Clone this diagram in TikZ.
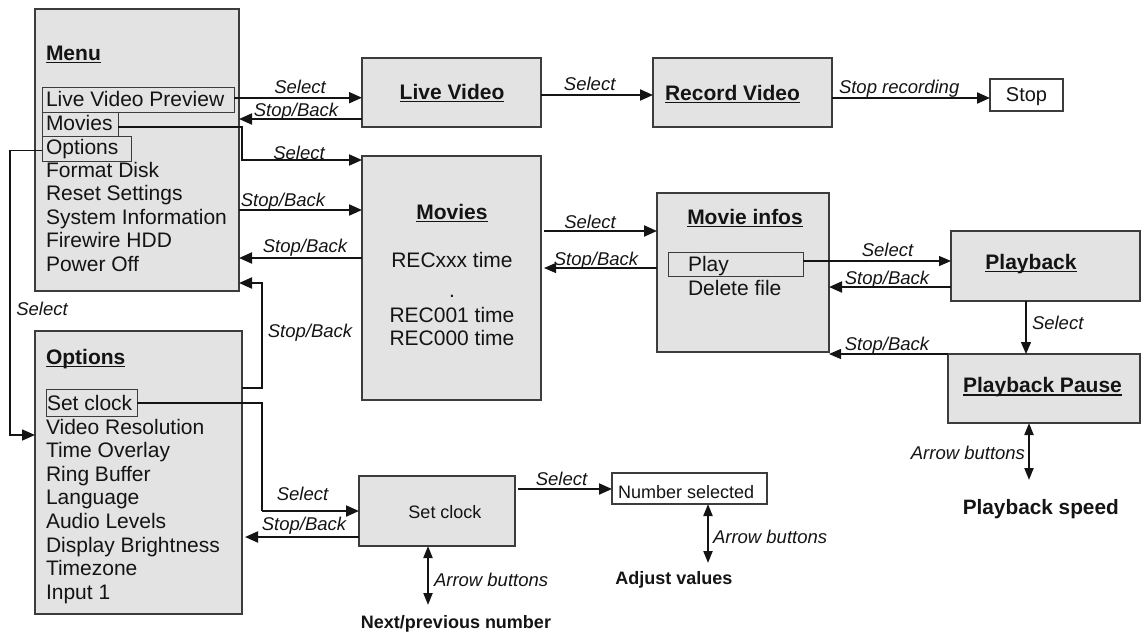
\documentclass[tikz,border=0pt]{standalone}
\usepackage{fontspec}
\setmainfont{Liberation Sans}
\usetikzlibrary{arrows.meta}
\definecolor{boxfill}{RGB}{227,227,227}
\definecolor{boxline}{RGB}{60,60,60}
\definecolor{ink}{RGB}{20,20,20}
\newcommand{\myul}[1]{\setbox0=\hbox{#1}\rlap{\rule[-3pt]{\wd0}{1.4pt}}\box0}
\begin{document}
\begin{tikzpicture}[x=1pt,y=-1pt,
  every node/.style={inner sep=0pt, outer sep=0pt, text=ink},
  panel/.style={draw=boxline, fill=boxfill, line width=1.2pt, rectangle, anchor=north west},
  whitebox/.style={draw=boxline, fill=white, line width=1.2pt, rectangle, anchor=north west},
  hl/.style={draw=boxline, line width=1pt, rectangle, anchor=north west},
  item/.style={anchor=base west, font=\fontsize{21}{24}\selectfont},
  ctext/.style={anchor=base, font=\fontsize{21}{24}\selectfont},
  ttl/.style={anchor=base, font=\fontsize{21}{24}\selectfont\bfseries},
  lbl/.style={anchor=base, font=\fontsize{18.5}{22}\selectfont\itshape},
  small/.style={anchor=base, font=\fontsize{18}{22}\selectfont},
  conn/.style={draw=ink, line width=2pt, -{Triangle[length=13pt,width=11pt]}},
  thinconn/.style={draw=ink, line width=1.3pt, -{Triangle[length=12pt,width=10pt]}},
  dbl/.style={draw=ink, line width=2pt, {Triangle[length=12pt,width=9pt]}-{Triangle[length=12pt,width=9pt]}}]
\useasboundingbox (0,0) rectangle (1141,632);

% ---------- Menu ----------
\node[panel, minimum width=204, minimum height=282] (menu) at (35,9) {};
\node[hl, minimum width=192, minimum height=25] (lvph) at (42,87) {};
\node[hl, minimum width=76, minimum height=24] (movh) at (42,112) {};
\node[hl, minimum width=89, minimum height=25] (opth) at (42,136) {};
\node[ttl, anchor=base west] (menut) at (46,60) {\myul{Menu}};
\node[item] (m1) at (46,106) {Live Video Preview};
\node[item] (m2) at (46,130) {Movies};
\node[item] (m3) at (46,154) {Options};
\node[item] (m4) at (46,177) {Format Disk};
\node[item] (m5) at (46,200.5) {Reset Settings};
\node[item] (m6) at (46,224) {System Information};
\node[item] (m7) at (46,247.5) {Firewire HDD};
\node[item] (m8) at (46,271) {Power Off};

% ---------- Options ----------
\node[panel, minimum width=207, minimum height=283] (options) at (35,331) {};
\node[hl, minimum width=91, minimum height=27] (setch) at (46,389) {};
\node[ttl, anchor=base west] (optt) at (46,364) {\myul{Options}};
\node[item] (o1) at (47,410) {Set clock};
\node[item] (o2) at (46,434) {Video Resolution};
\node[item] (o3) at (46,457.6) {Time Overlay};
\node[item] (o4) at (46,481.2) {Ring Buffer};
\node[item] (o5) at (46,504.8) {Language};
\node[item] (o6) at (46,528.4) {Audio Levels};
\node[item] (o7) at (46,552) {Display Brightness};
\node[item] (o8) at (46,575.6) {Timezone};
\node[item] (o9) at (46,599.2) {Input 1};

% ---------- Live / Record / Stop ----------
\node[panel, minimum width=179, minimum height=69] (live) at (362,58) {};
\node[ttl] (livet) at (452,99) {\myul{Live Video}};
\node[panel, minimum width=179, minimum height=69] (record) at (653,58) {};
\node[ttl] (recordt) at (732.5,100) {\myul{Record Video}};
\node[whitebox, minimum width=73, minimum height=32] (stopbox) at (990,79) {};
\node[anchor=base, font=\fontsize{20}{24}\selectfont] (stopt) at (1026.5,101.7) {Stop};

% ---------- Movies ----------
\node[panel, minimum width=179, minimum height=244] (movies) at (362,156) {};
\node[ttl] (moviest) at (452,219) {\myul{Movies}};
\node[ctext] (r1) at (452,267) {RECxxx time};
\node[ctext] (rdot) at (452,297) {.};
\node[ctext] (r2) at (452,322) {REC001 time};
\node[ctext] (r3) at (452,345) {REC000 time};

% ---------- Movie infos ----------
\node[panel, minimum width=172, minimum height=159] (infos) at (657,193) {};
\node[hl, minimum width=135, minimum height=24] (playh) at (668,252) {};
\node[ttl] (infost) at (745,224) {\myul{Movie infos}};
\node[item] (i1) at (688,271.7) {Play};
\node[item] (i2) at (688,295) {Delete file};

% ---------- Playback ----------
\node[panel, minimum width=189, minimum height=70] (playback) at (951,231) {};
\node[ttl] (playbackt) at (1031,269) {\myul{Playback}};
\node[panel, minimum width=192, minimum height=69] (pause) at (948,354) {};
\node[ttl] (pauset) at (1042.5,392.7) {\myul{Playback Pause}};

% ---------- Set clock ----------
\node[panel, minimum width=156, minimum height=70] (setclock) at (359,476) {};
\node[small] (setclockt) at (445,518) {Set clock};
\node[whitebox, minimum width=155, minimum height=31] (number) at (612,473) {};
\node[small, anchor=base west] (numbert) at (618,498) {Number selected};

% ---------- free ends ----------
\coordinate (lx) at (10,0);
\coordinate (sc) at (262,511);
\coordinate (spdend) at (1029,480);
\coordinate (adjend) at (708,563);
\coordinate (nextend) at (428,605);

% ---------- connectors ----------
\draw[conn] (lvph.east |- 0,97.7) -- (live.west |- 0,97.7);
\draw[conn] (live.west |- 0,119) -- (menu.east |- 0,119);
\draw[conn] (movh.east |- 0,127) -| (242,160) -- (movies.west |- 0,160);
\draw[conn] (menu.east |- 0,210) -- (movies.west |- 0,210);
\draw[conn] (movies.west |- 0,258) -- (menu.east |- 0,258);
\draw[draw=ink, line width=1.6pt, -{Triangle[length=13pt,width=11pt]}] (opth.west |- 0,150.5) -- (lx |- 0,150.5) |- (options.west |- 0,435);
\draw[conn] (options.east |- 0,388) -| (262,283) -- (menu.east |- 0,283);
\draw[draw=ink, line width=1.3pt] (setch.east |- 0,403) -| (sc);
\draw[conn] (sc) -- (setclock.west |- sc);
\draw[conn, shorten >=3pt] (setclock.west |- 0,537) -- (options.east |- 0,537);
\draw[conn] (live.east |- 0,95) -- (record.west |- 0,95);
\draw[conn] (record.east |- 0,98) -- (stopbox.west |- 0,98);
\draw[conn, shorten <=3pt] (movies.east |- 0,231) -- (infos.west |- 0,231);
\draw[thinconn, shorten >=3pt] (infos.west |- 0,268) -- (movies.east |- 0,268);
\draw[thinconn] (playh.east |- 0,261) -- (playback.west |- 0,261);
\draw[conn] (playback.west |- 0,287) -- (infos.east |- 0,287);
\draw[thinconn] (playback.south -| 1026,0) -- (pause.north -| 1026,0);
\draw[thinconn] (pause.north west) -- (infos.east |- pause.north west);
\draw[conn, shorten <=3pt] (setclock.east |- 0,489) -- (number.west |- 0,489);
\draw[dbl] (pause.south -| spdend) -- (spdend);
\draw[dbl] (number.south -| adjend) -- (adjend);
\draw[dbl] (setclock.south -| nextend) -- (nextend);

% ---------- labels ----------
\node[lbl] (l1) at (300,93.3) {Select};
\node[lbl] (l2) at (296,116) {Stop/Back};
\node[lbl] (l3) at (299,159.3) {Select};
\node[lbl] (l4) at (283,206.7) {Stop/Back};
\node[lbl] (l5) at (305,252) {Stop/Back};
\node[lbl] (l6) at (42,315) {Select};
\node[lbl] (l7) at (310,337) {Stop/Back};
\node[lbl] (l8) at (302.5,500.7) {Select};
\node[lbl] (l9) at (304,530.7) {Stop/Back};
\node[lbl] (l10) at (589.7,90) {Select};
\node[lbl] (l11) at (590,228) {Select};
\node[lbl] (l12) at (596,265) {Stop/Back};
\node[lbl] (l13) at (887.5,256) {Select};
\node[lbl] (l14) at (887,284) {Stop/Back};
\node[lbl, anchor=base west] (l15) at (1032,329) {Select};
\node[lbl] (l16) at (887,350.7) {Stop/Back};
\node[lbl] (l17) at (561.5,485) {Select};
\node[lbl, anchor=base west] (l18) at (839,93) {Stop recording};
\node[lbl, anchor=base west] (l19) at (713,543) {Arrow buttons};
\node[lbl, anchor=base west] (l20) at (434,586.7) {Arrow buttons};
\node[lbl, anchor=base east] (l21) at (1025,459) {Arrow buttons};

\node[anchor=base, font=\fontsize{18}{22}\selectfont\bfseries] (adj) at (673.8,584) {Adjust values};
\node[anchor=base, font=\fontsize{18}{22}\selectfont\bfseries] (nextp) at (456,628) {Next/previous number};
\node[anchor=base, font=\fontsize{20.8}{24}\selectfont\bfseries] (speed) at (1040.8,514) {Playback speed};
\end{tikzpicture}
\end{document}
